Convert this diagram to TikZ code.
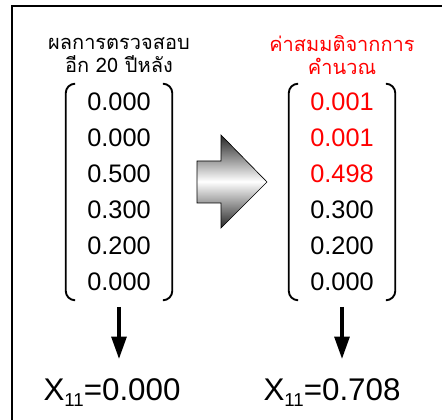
\documentclass[tikz,border=0pt]{standalone}
\usepackage{xcolor}
\usepackage{fontspec}
\setmainfont{Liberation Sans}
\newfontfamily\thaifont[Script=Thai]{Loma}
\usepackage{tikz}
\usetikzlibrary{arrows.meta, positioning, calc}

\newcommand{\subidx}[1]{\raisebox{-4.5pt}{\fontsize{14}{14}\selectfont #1}}

\begin{document}
\begin{tikzpicture}[x=0.75pt, y=-0.75pt,
  frame/.style={line width=1.2pt},
  title/.style={align=center, font=\thaifont\fontsize{15}{17.5}\selectfont, inner sep=0pt},
  column/.style={align=center, minimum width=79.5pt, minimum height=162pt, inner sep=0pt, font=\fontsize{19}{27}\selectfont},
  paren/.style={line width=1.4pt, rounded corners=7pt},
  bigarrow/.style={draw, line width=0.5pt, top color=black!85, bottom color=black!85, middle color=white},
  down/.style={-{Triangle[length=17pt,width=11pt]}, line width=3pt},
  result/.style={anchor=base, inner sep=0pt, font=\fontsize{23.5}{28}\selectfont}
]
  \useasboundingbox (0,0) rectangle (442,420);
  \draw[frame] (12,421) -- (12,6) -- (442,6);

  \node[title] (obsTitle) at (119,55) {ผลการตรวจสอบ\\อีก 20 ปีหลัง};
  \node[title, text=red] (calcTitle) at (342,55) {ค่าสมมติจากการ\\คำนวณ};

  \node[column] (obs) at (119,192) {0.000\\0.000\\0.500\\0.300\\0.200\\0.000};
  \node[column] (calc) at (342,192) {\textcolor{red}{0.001}\\\textcolor{red}{0.001}\\\textcolor{red}{0.498}\\0.300\\0.200\\0.000};

  % brackets round the columns
  \foreach \col in {obs, calc} {
    \draw[paren] ([xshift=6pt]\col.north west) -- (\col.north west) -- (\col.south west) -- ([xshift=6pt]\col.south west);
    \draw[paren] ([xshift=-6pt]\col.north east) -- (\col.north east) -- (\col.south east) -- ([xshift=-6pt]\col.south east);
  }

  \draw[bigarrow] (197,161) -- (221,161) -- (221,135) -- (267,182) -- (221,228) -- (221,203) -- (197,203) -- cycle;

  \node[result] (obsRes) at (112,400) {X\subidx{11}=0.000};
  \node[result] (calcRes) at (332,400) {X\subidx{11}=0.708};

  \draw[down, shorten <=5pt, shorten >=14pt] (obs.south) -- (obs.south |- obsRes.north);
  \draw[down, shorten <=5pt, shorten >=14pt] (calc.south) -- (calc.south |- calcRes.north);
\end{tikzpicture}
\end{document}
